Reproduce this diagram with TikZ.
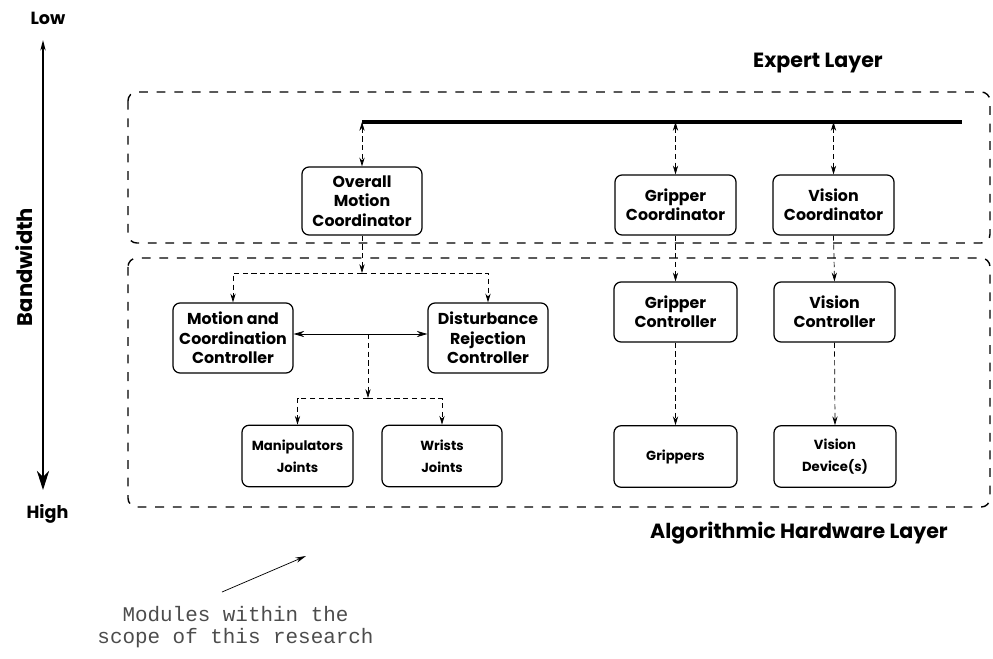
\documentclass[tikz,border=0pt]{standalone}
\usepackage{fontspec}
\setmainfont{Poppins}
\setmonofont{Liberation Mono}
\usetikzlibrary{positioning, arrows.meta, calc}

\tikzset{
  module/.style = {draw, rectangle, rounded corners=4pt,
                   align=center, line width=0.7pt, inner sep=2pt,
                   font=\bfseries\fontsize{9}{11}\selectfont},
  device/.style = {module, minimum height=1.23cm,
                   font=\bfseries\fontsize{7.5}{12.5}\selectfont},
  layer/.style  = {draw, dash pattern=on 5pt off 5pt,
                   line width=0.8pt, rounded corners=5pt},
  arr/.style    = {->, >={Stealth[length=5pt,width=3pt]},
                   densely dashed, thin},
  arr2/.style   = {<->, >={Stealth[length=5pt,width=3pt]},
                   densely dashed, thin},
  arr3/.style   = {<->, >={Stealth[length=6pt,width=3.5pt]}, thin},
  bus/.style    = {line width=1.8pt},
  lbl/.style    = {font=\bfseries\fontsize{11.7}{13}\selectfont},
  axis/.style   = {font=\bfseries\fontsize{10}{12}\selectfont},
}

\begin{document}
\begin{tikzpicture}

\useasboundingbox (0,0) rectangle (19.86,-13.16);

% ────────────────────────────────────────────────────────────
%  Absolute coordinates throughout (1 px of the sketch = 0.02 cm).
%  Expert layer       : y = -1.84 .. -4.86
%  Algorithmic layer  : y = -5.16 .. -10.14
% ────────────────────────────────────────────────────────────

% ═══════════════════════════════════════════════════════════
%  BANDWIDTH AXIS
% ═══════════════════════════════════════════════════════════
\node[axis] (low)  at (0.96, -0.36) {Low};
\node[axis] (high) at (0.95, -10.28) {High};
\node[axis, font=\bfseries\fontsize{12}{14}\selectfont, rotate=90]
  (bw) at (0.48, -5.34) {Bandwidth};
\coordinate (ax-top) at (0.86, -0.80);
\coordinate (ax-bot) at (0.86, -9.80);
\draw[{Stealth[length=6pt,width=3pt]}-{Stealth[length=11pt,width=7pt]}, line width=0.8pt]
  (ax-top) -- (ax-bot);

% ═══════════════════════════════════════════════════════════
%  LAYERS
% ═══════════════════════════════════════════════════════════
\draw[layer] (2.56, -1.84) rectangle (19.80, -4.86);
\draw[layer] (2.56, -5.16) rectangle (19.80, -10.14);

\node[lbl] (l-exp) at (16.36, -1.26) {Expert Layer};
\node[lbl] (l-alg) at (15.98, -10.66) {Algorithmic Hardware Layer};

% ═══════════════════════════════════════════════════════════
%  EXPERT LAYER
% ═══════════════════════════════════════════════════════════
\coordinate (busL) at (7.24, -2.44);
\coordinate (busR) at (19.24, -2.44);
\draw[bus] (busL) -- (busR);

\node[module, minimum width=2.40cm, minimum height=1.36cm] (omc) at (7.24, -4.02)
  {Overall\\ Motion\\ Coordinator};
\node[module, minimum width=2.42cm, minimum height=1.20cm] (gco) at (13.51, -4.10)
  {Gripper\\ Coordinator};
\node[module, minimum width=2.42cm, minimum height=1.20cm] (vco) at (16.67, -4.10)
  {Vision\\ Coordinator};

\draw[arr2] (busL) -- (omc.north);
\draw[arr2] (gco.north |- busL) -- (gco.north);
\draw[arr2] (vco.north |- busL) -- (vco.north);

% ═══════════════════════════════════════════════════════════
%  ALGORITHMIC HARDWARE LAYER
% ═══════════════════════════════════════════════════════════
\node[module, minimum width=2.40cm, minimum height=1.40cm] (mcc) at (4.66, -6.76)
  {Motion and\\ Coordination\\ Controller};
\node[module, minimum width=2.40cm, minimum height=1.40cm] (drc) at (9.76, -6.76)
  {Disturbance\\ Rejection\\ Controller};

\coordinate (j1) at (7.24, -5.46);
\draw[arr] (omc.south) -- (j1);
\draw[arr] (j1) -| (mcc.north);
\draw[arr] (j1) -| (drc.north);

\draw[arr3] ($(mcc.east)+(0,0.08)$) -- ($(drc.west)+(0,0.08)$);

\node[device, minimum width=2.22cm] (mj) at (5.95, -9.12) {Manipulators\\ Joints};
\node[device, minimum width=2.40cm] (wj) at (8.84, -9.12) {Wrists\\ Joints};

\coordinate (j2) at (7.36, -6.68);
\coordinate (j3) at (7.36, -7.96);
\draw[arr] (j2) -- (j3);
\draw[arr] (j3) -| (mj.north);
\draw[arr] (j3) -| (wj.north);

\node[module, minimum width=2.46cm, minimum height=1.20cm] (gct) at (13.51, -6.24)
  {Gripper\\ Controller};
\node[module, minimum width=2.42cm, minimum height=1.20cm] (vct) at (16.69, -6.24)
  {Vision\\ Controller};

\node[device, minimum width=2.46cm] (grp) at (13.51, -9.13) {Grippers};
\node[device, minimum width=2.44cm] (vdv) at (16.70, -9.13) {Vision\\ Device(s)};

\draw[arr] (gco.south) -- (gct.north);
\draw[arr] (vco.south) -- (vct.north);
\draw[arr] (gct.south) -- (grp.north);
\draw[arr] (vct.south) -- (vdv.north);

% ═══════════════════════════════════════════════════════════
%  NOTE
% ═══════════════════════════════════════════════════════════
\node[font=\ttfamily\fontsize{11.9}{12.8}\selectfont, text=black!70, align=center]
  (note) at (4.71, -12.54) {Modules within the\\ scope of this research};
\coordinate (note-tip) at (6.12, -11.12);
\draw[-{Stealth[length=6pt,width=3pt]}, thin] (4.44, -11.84) -- (note-tip);

\end{tikzpicture}
\end{document}
